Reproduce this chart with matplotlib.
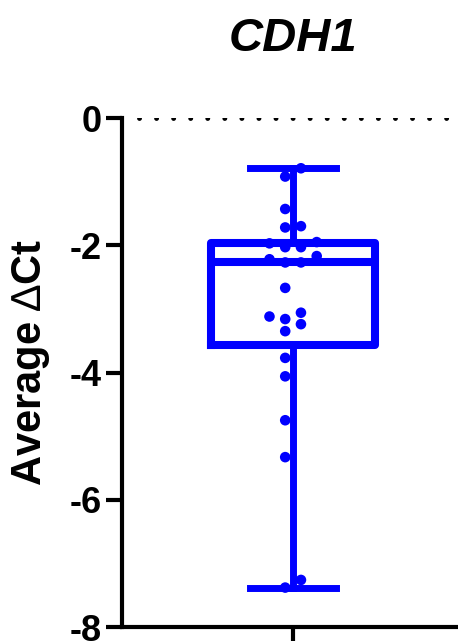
import numpy as np
import matplotlib.pyplot as plt

plt.rcParams['font.family'] = ['Liberation Sans', 'DejaVu Sans']
plt.rcParams['mathtext.fontset'] = 'custom'
plt.rcParams['mathtext.rm'] = 'Liberation Sans'

# average delta Ct per sample for CDH1
gene = "CDH1"
delta_ct = [-0.79, -0.92, -1.43, -1.70, -1.72, -1.95, -1.97, -2.03, -2.03,
            -2.17, -2.22, -2.27, -2.27, -2.67, -3.06, -3.12, -3.16, -3.24,
            -3.35, -3.77, -4.06, -4.75, -5.33, -7.26, -7.38]
y_ticks = [0, -2, -4, -6, -8]

blue = '#0000ff'
vals = np.array(delta_ct)

# box stats: quartiles with the (n+1) rule, whiskers at min/max
q1, med, q3 = np.percentile(vals, [25, 50, 75], method='weibull')
stats = [dict(med=med, q1=q1, q3=q3, whislo=vals.min(), whishi=vals.max(),
              fliers=[])]


def swarm(y, thresh, step):
    # place points column by column, left/right of centre, avoiding overlap
    order = np.argsort(y)
    slots = [-0.5, 0.5, -1.5, 1.5, -2.5, 2.5]
    placed = {s: [] for s in slots}
    xs = np.zeros(len(y))
    for i in order:
        for s in slots:
            if all(abs(y[i] - o) >= thresh for o in placed[s]):
                placed[s].append(y[i])
                xs[i] = s * step
                break
    return xs


fig = plt.figure(figsize=(4.58, 6.41), dpi=100)
ax = fig.add_axes([0.2664, 0.0218, 0.7336, 0.7941])

ax.bxp(stats, positions=[0], widths=0.48, showfliers=False,
       boxprops=dict(color=blue, linewidth=5.8),
       medianprops=dict(color=blue, linewidth=5.8),
       whiskerprops=dict(color=blue, linewidth=5.0),
       capprops=dict(color=blue, linewidth=5.0),
       capwidths=0.25, zorder=2)

xs = swarm(vals, 0.16, 0.046)
ax.scatter(xs, vals, s=58, color=blue, edgecolors='none', zorder=3)

# dotted reference line at zero
ax.axhline(0, color='black', linestyle=(0, (0.01, 3.5)), linewidth=3.5,
           dash_capstyle='round', xmin=0.05, zorder=1)

ax.set_xlim(-0.5, 0.482)
ax.set_ylim(-8, 0)
ax.set_xticks([0])
ax.set_xticklabels([''])
ax.set_yticks(y_ticks)
ax.set_yticklabels([str(t) for t in y_ticks], fontsize=26, fontweight='bold')
ax.tick_params(axis='both', width=3, length=11.5, direction='out', pad=3)

for side in ['top', 'right']:
    ax.spines[side].set_visible(False)
for side in ['left', 'bottom']:
    ax.spines[side].set_linewidth(3)
ax.spines['left'].set_capstyle('projecting')

ax.set_ylabel('Average $\\mathrm{\u2206}$Ct', fontsize=30, fontweight='bold')
ax.yaxis.set_label_coords(-0.208, 0.52)

fig.text((293 / 458), 1 - 39 / 641, gene, fontsize=34, fontweight='bold',
         fontstyle='italic', ha='center', va='center')

fig.savefig('out.png', dpi=100)
